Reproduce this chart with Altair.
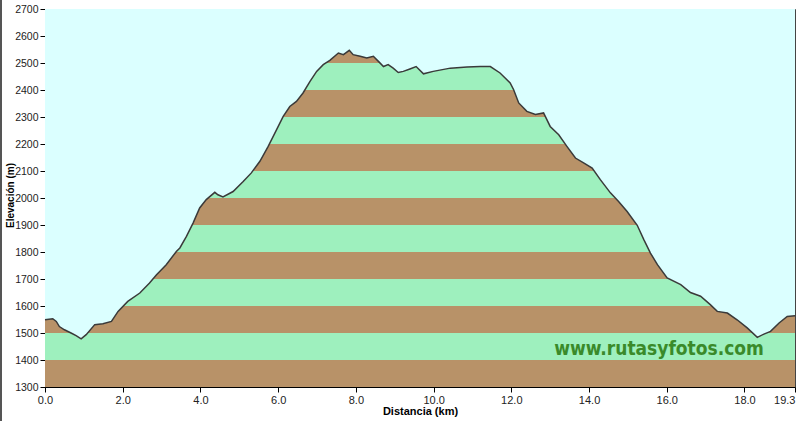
import altair as alt
import pandas as pd

# Profile (distance km, elevation m)
dist_km = [0.0, 0.2, 0.29, 0.37, 0.5, 0.67, 0.8, 0.93, 1.06, 1.28, 1.49, 1.71, 1.88, 2.13,
           2.44, 2.69, 2.87, 3.12, 3.38, 3.47, 3.64, 3.81, 3.98, 4.15, 4.37, 4.45, 4.58,
           4.84, 5.10, 5.31, 5.53, 5.74, 5.96, 6.13, 6.30, 6.47, 6.64, 6.82, 6.99, 7.16,
           7.33, 7.55, 7.68, 7.83, 7.93, 8.11, 8.28, 8.45, 8.58, 8.71, 8.83, 8.96, 9.09,
           9.22, 9.39, 9.55, 9.74, 9.99, 10.43, 10.86, 11.20, 11.46, 11.71, 11.97, 12.06,
           12.19, 12.40, 12.62, 12.83, 13.00, 13.22, 13.43, 13.65, 13.86, 14.08, 14.29,
           14.55, 14.76, 14.98, 15.24, 15.41, 15.58, 15.76, 16.01, 16.36, 16.61, 16.87,
           17.12, 17.30, 17.56, 17.81, 18.07, 18.33, 18.50, 18.67, 18.89, 19.10, 19.3]
elev_m = [1549, 1553, 1543, 1524, 1512, 1500, 1490, 1478, 1494, 1531, 1534, 1543, 1580, 1617,
          1648, 1685, 1716, 1753, 1802, 1815, 1858, 1907, 1963, 1994, 2021, 2012, 2004,
          2024, 2061, 2093, 2136, 2190, 2253, 2302, 2339, 2358, 2389, 2432, 2469, 2494,
          2510, 2537, 2531, 2547, 2531, 2525, 2519, 2525, 2506, 2487, 2494, 2481, 2465,
          2469, 2478, 2487, 2460, 2469, 2481, 2485, 2487, 2487, 2463, 2426, 2401,
          2352, 2321, 2309, 2315, 2265, 2234, 2191, 2148, 2130, 2111, 2068,
          2019, 1987, 1950, 1899, 1846, 1796, 1753, 1704, 1679, 1650, 1636,
          1605, 1580, 1574, 1549, 1519, 1484, 1496, 1506, 1537, 1561, 1564]

band_lo = [1300, 1400, 1500, 1600, 1700, 1800, 1900, 2000, 2100, 2200, 2300, 2400, 2500, 2600]
band_hi = [1400, 1500, 1600, 1700, 1800, 1900, 2000, 2100, 2200, 2300, 2400, 2500, 2600, 2700]
band_col = ["#b89268", "#9ef0be"] * 7

x_ticks = [0, 2, 4, 6, 8, 10, 12, 14, 16, 18, 19.3]
y_ticks = list(range(1300, 2701, 100))

prof = pd.DataFrame({"km": dist_km, "elev": elev_m})
bands = pd.DataFrame({"lo": band_lo, "hi": band_hi, "col": band_col})

SKY = "#dbffff"
W, H = 750, 378
FONT = "Liberation Sans, Arial, sans-serif"

xs = alt.Scale(domain=[0, 19.3], nice=False, zero=False)
ys = alt.Scale(domain=[1300, 2700], nice=False, zero=False)

x_axis = alt.Axis(values=x_ticks, format=".1f", title="Distancia   (km)",
                  labelFlush=False, labelOverlap=False, grid=False,
                  labelAlign={"condition": {"test": "datum.value > 19", "value": "right"},
                              "value": "center"},
                  tickSize=5, tickColor="black", domainColor="black",
                  labelFontSize=11, labelColor="#222", labelFont=FONT,
                  titleFont=FONT, titleFontSize=11, titleFontWeight="bold",
                  titlePadding=0, labelPadding=2)
y_axis = alt.Axis(values=y_ticks, format="d", title="Elevación (m)", tickCount=15,
                  grid=False, tickSize=5, tickColor="black", domainColor="black",
                  labelFontSize=10.5, labelColor="#222", labelFont=FONT,
                  labelOverlap=False, labelFlush=False,
                  titleFont=FONT, titleFontSize=10, titleFontWeight="bold",
                  titleX=-35, titleY=186, titleAlign="center",
                  titleBaseline="middle", labelPadding=2)

band_layer = alt.Chart(bands).mark_rect().encode(
    x=alt.value(0), x2=alt.value(W),
    y=alt.Y("lo:Q", scale=ys, axis=y_axis), y2="hi:Q",
    fill=alt.Fill("col:N", scale=None),
)

sky = alt.Chart(prof).mark_area(color=SKY, opacity=1).encode(
    x=alt.X("km:Q", scale=xs, axis=x_axis),
    y=alt.Y("elev:Q", scale=ys, axis=y_axis),
    y2=alt.datum(2700),
)

line = alt.Chart(prof).mark_line(color="#3a3a3a", strokeWidth=1.5).encode(
    x=alt.X("km:Q", scale=xs, axis=x_axis),
    y=alt.Y("elev:Q", scale=ys, axis=y_axis),
)

wm = alt.Chart(pd.DataFrame({"t": ["www.rutasyfotos.com"]})).mark_text(
    font="DejaVu Sans Condensed, Liberation Sans Narrow, sans-serif",
    fontWeight="bold", fontSize=19, color="#3a8a2a",
    align="center", baseline="middle",
).encode(x=alt.value(614), y=alt.value(340), text="t:N")

border = alt.Chart(pd.DataFrame({"a": [0]})).mark_rule(color="#555", strokeWidth=2).encode(
    x=alt.value(-44), y=alt.value(-9), y2=alt.value(H + 34),
)

chart = alt.layer(band_layer, sky, line, wm, border).properties(
    width=W, height=H,
    padding={"left": 45, "top": 9, "right": 4, "bottom": 34},
    autosize=alt.AutoSizeParams(type="none"),
    background="white",
).configure_view(stroke="#444", strokeWidth=1)

chart.save("out.html", embed_options={"renderer": "svg", "actions": False})
